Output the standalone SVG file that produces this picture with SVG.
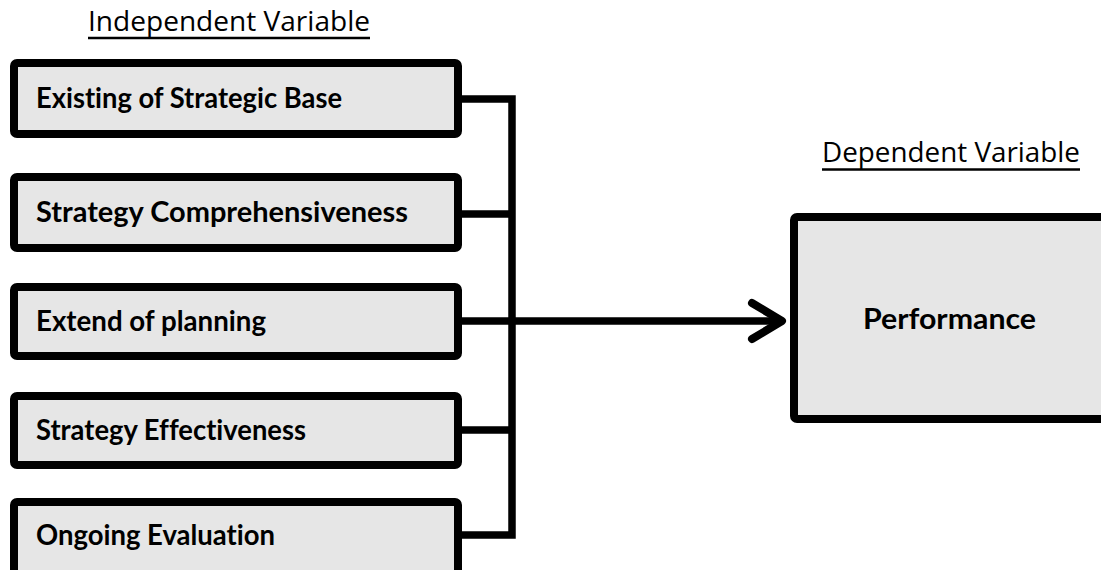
<svg xmlns="http://www.w3.org/2000/svg" width="1101" height="570" viewBox="0 0 1101 570">
  <style>
    .box { fill: #e6e6e6; stroke: #000; stroke-width: 8; }
    .lbl { font-family: Lato, "Liberation Sans", sans-serif; font-weight: bold; font-size: 29px; fill: #000; font-variant-ligatures: none; }
    .ttl { font-family: "Open Sans", "Liberation Sans", sans-serif; font-size: 27px; fill: #000; }
    .ul { stroke: #000; stroke-width: 2.5; }
    .con { fill: none; stroke: #000; stroke-width: 7.5; stroke-linecap: butt; stroke-linejoin: miter; }
    .head { fill: none; stroke: #000; stroke-width: 8; stroke-linecap: round; stroke-linejoin: round; }
  </style>

  <g id="title-independent">
    <text class="ttl" x="88" y="31" textLength="282" lengthAdjust="spacingAndGlyphs">Independent Variable</text>
    <line class="ul" x1="88" y1="38" x2="370" y2="38"/>
  </g>
  <g id="title-dependent">
    <text class="ttl" x="822" y="162" textLength="258" lengthAdjust="spacingAndGlyphs">Dependent Variable</text>
    <line class="ul" x1="822" y1="169.5" x2="1080" y2="169.5"/>
  </g>

  <g id="connectors">
    <path class="con" d="M462,99 H512 M462,214 H512 M462,430 H512 M462,535 H512 M512,95.25 V538.75"/>
    <path class="con" d="M462,321 H780"/>
    <path class="head" d="M752,303 L782,321 L752,339"/>
  </g>

  <g id="node-existing">
    <rect class="box" x="14" y="63" width="444" height="71" rx="3"/>
    <text class="lbl" x="36" y="108" textLength="306" lengthAdjust="spacingAndGlyphs">Existing of Strategic Base</text>
  </g>
  <g id="node-comprehensiveness">
    <rect class="box" x="14" y="177" width="444" height="71" rx="3"/>
    <text class="lbl" x="36" y="222" textLength="372" lengthAdjust="spacingAndGlyphs">Strategy Comprehensiveness</text>
  </g>
  <g id="node-planning">
    <rect class="box" x="14" y="287" width="444" height="69" rx="3"/>
    <text class="lbl" x="36" y="331" textLength="230" lengthAdjust="spacingAndGlyphs">Extend of planning</text>
  </g>
  <g id="node-effectiveness">
    <rect class="box" x="14" y="396" width="444" height="69" rx="3"/>
    <text class="lbl" x="36" y="440" textLength="270" lengthAdjust="spacingAndGlyphs">Strategy Effectiveness</text>
  </g>
  <g id="node-evaluation">
    <rect class="box" x="14" y="502" width="444" height="80" rx="3"/>
    <text class="lbl" x="36" y="545" textLength="239" lengthAdjust="spacingAndGlyphs">Ongoing Evaluation</text>
  </g>
  <g id="node-performance">
    <rect class="box" x="794" y="217" width="320" height="202" rx="3"/>
    <text class="lbl" x="863" y="329" textLength="173" lengthAdjust="spacingAndGlyphs">Performance</text>
  </g>
</svg>
